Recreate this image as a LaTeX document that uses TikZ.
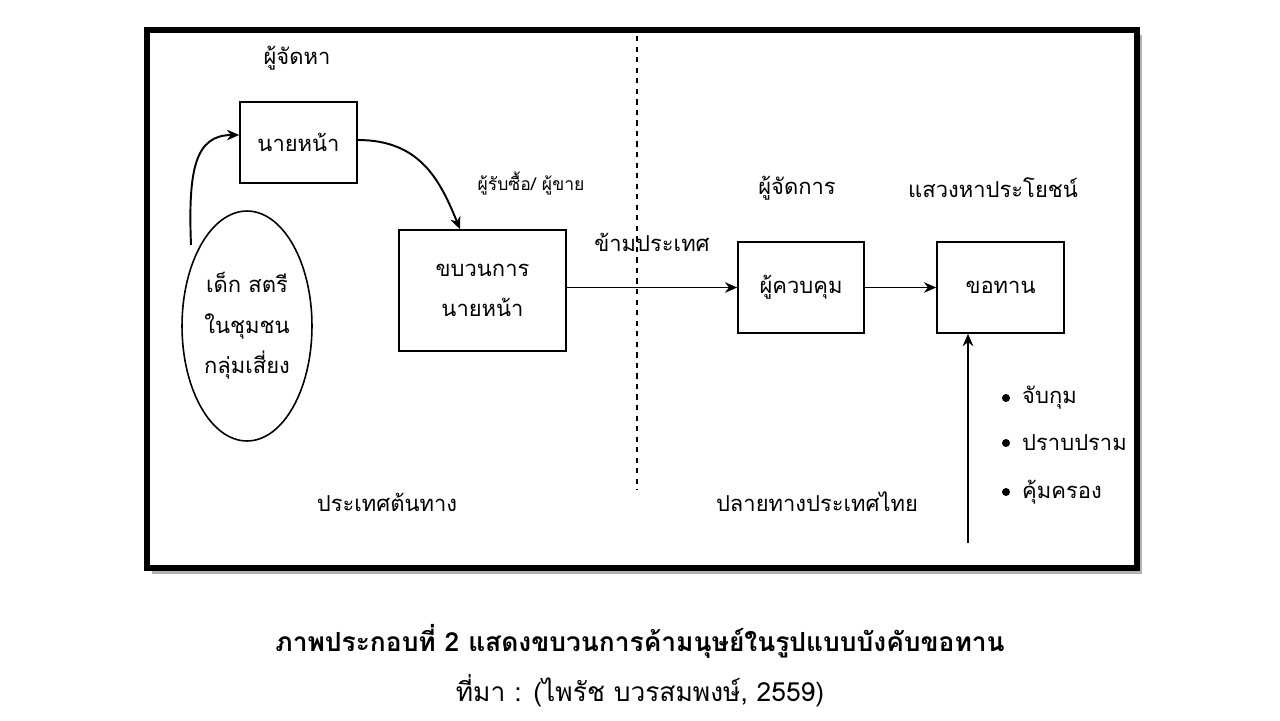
\documentclass[tikz,border=0pt]{standalone}
\usepackage{fontspec}
\newfontfamily\thaifont[Script=Thai]{Loma}
\usetikzlibrary{arrows.meta,shapes.geometric}
\begin{document}
\begin{tikzpicture}[x=0.02cm,y=-0.02cm,
  every node/.style={font=\thaifont\fontsize{12.5}{19}\selectfont},
  box/.style={draw,line width=0.9pt,minimum width=0, inner sep=0},
  arr/.style={-{Stealth[length=7pt,width=6pt]},line width=1.1pt},
  bul/.style={circle,fill=black,inner sep=0,minimum size=0.16cm}]
\useasboundingbox (0,0) rectangle (1280,720);
\fill[gray!60] (152,35) rectangle (1142,574);
\draw[line width=3.5pt,fill=white] (147,30) rectangle (1137,568);
\draw[dashed,line width=0.7pt] (637,36) -- (637,490);
\node[box,minimum width=2.34cm,minimum height=1.62cm] (agent) at (298.5,142.5) {นายหน้า};
\node[box,minimum width=3.34cm,minimum height=2.42cm,align=center] (proc) at (482.5,290.5) {ขบวนการ\\[4pt]นายหน้า};
\node[box,minimum width=2.52cm,minimum height=1.82cm] (ctrl) at (801,287.5) {ผู้ควบคุม};
\node[box,minimum width=2.54cm,minimum height=1.82cm] (beg) at (1000.5,287.5) {ขอทาน};
\node[draw,ellipse,line width=0.9pt,minimum width=2.6cm,minimum height=4.6cm,inner sep=0,align=center] (vict) at (247,326) {เด็ก สตรี\\[4pt]ในชุมชน\\[4pt]กลุ่มเสี่ยง};
\node (l1) at (297,58) {ผู้จัดหา};
\node[font=\thaifont\fontsize{10}{12}\selectfont] (l2) at (531,183) {ผู้รับซื้อ/ ผู้ขาย};
\node (l3) at (652,242) {ข้ามประเทศ};
\node (l4) at (797,188) {ผู้จัดการ};
\node (l5) at (993,188) {แสวงหาประโยชน์};
\node (l6) at (387,502) {ประเทศต้นทาง};
\node (l7) at (817,502) {ปลายทางประเทศไทย};
\node[bul] (d1) at (1006,398) {};
\node[bul] (d2) at (1006,443) {};
\node[bul] (d3) at (1006,492) {};
\node[anchor=west] (b1) at (1016,398) {จับกุม};
\node[anchor=west] (b2) at (1016,443) {ปราบปราม};
\node[anchor=west] (b3) at (1016,492) {คุ้มครอง};
\coordinate (vs) at (191,245);
\coordinate (bot) at (968,543);
\draw[arr] (vs) .. controls (188,170) and (195,135) .. (agent.west |- 0,135);
\draw[arr] (agent.east |- 0,140) .. controls (420,140) and (440,180) .. (proc.north -| 460,0);
\draw[arr] (proc.east |- ctrl.west) -- (ctrl.west);
\draw[arr] (ctrl.east) -- (beg.west);
\draw[arr] (bot) -- (beg.south -| bot);
\node[font=\thaifont\bfseries\fontsize{15}{18}\selectfont] (cap) at (640,641) {ภาพประกอบที่ 2 แสดงขบวนการค้ามนุษย์ในรูปแบบบังคับขอทาน};
\node[font=\thaifont\fontsize{15}{18}\selectfont] (src) at (640,691) {ที่มา : (ไพรัช บวรสมพงษ์, 2559)};
\end{tikzpicture}
\end{document}
